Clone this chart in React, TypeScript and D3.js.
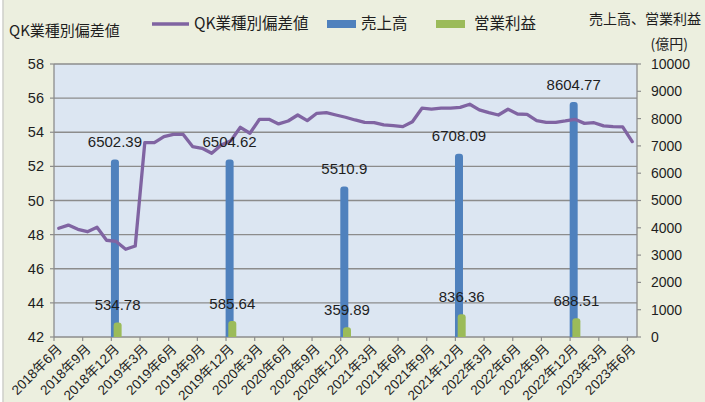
import React from "react";
import * as d3 from "d3";

const startYear = 2018;
const startMonth = 6;
const monthCount = 61;
const months: string[] = [];
for (let k = 0; k < monthCount; k++) {
  const m0 = startMonth - 1 + k;
  months.push(`${startYear + Math.floor(m0 / 12)}年${(m0 % 12) + 1}月`);
}

const tickLabels = [
  "2018年6月", "2018年9月", "2018年12月", "2019年3月", "2019年6月", "2019年9月", "2019年12月",
  "2020年3月", "2020年6月", "2020年9月", "2020年12月", "2021年3月", "2021年6月", "2021年9月",
  "2021年12月", "2022年3月", "2022年6月", "2022年9月", "2022年12月", "2023年3月", "2023年6月",
];

const qkValues = [
  48.37, 48.56, 48.31, 48.17, 48.43, 47.67, 47.6, 47.14, 47.33, 53.39,
  53.39, 53.74, 53.88, 53.88, 53.16, 53.06, 52.77, 53.25, 53.5, 54.29,
  53.94, 54.76, 54.76, 54.49, 54.66, 55.01, 54.68, 55.11, 55.15, 55.01,
  54.88, 54.72, 54.58, 54.56, 54.43, 54.39, 54.33, 54.62, 55.41, 55.36,
  55.41, 55.41, 55.46, 55.64, 55.31, 55.15, 55.01, 55.35, 55.07, 55.05,
  54.68, 54.58, 54.58, 54.66, 54.76, 54.52, 54.56, 54.37, 54.33, 54.31,
  53.45,
];

const barCategories = ["2018年12月", "2019年12月", "2020年12月", "2021年12月", "2022年12月"];
const salesValues = [6502.39, 6504.62, 5510.9, 6708.09, 8604.77];
const profitValues = [534.78, 585.64, 359.89, 836.36, 688.51];

const leftTicks = [42, 44, 46, 48, 50, 52, 54, 56, 58];
const rightTicks = [0, 1000, 2000, 3000, 4000, 5000, 6000, 7000, 8000, 9000, 10000];

const W = 705;
const H = 402;
const P = { left: 54, right: 637, top: 64, bottom: 337 };

const C = {
  bg: "#ecefdf",
  plot: "#dce6f2",
  grid: "#8c8c8c",
  line: "#8064a2",
  blue: "#4f81bd",
  green: "#9bbb59",
  text: "#1e1e1e",
};

const FONT = "'Liberation Sans', 'Noto Sans CJK JP', sans-serif";
const CJK = "'Noto Sans CJK JP', 'Liberation Sans', sans-serif";

function roundTopBar(cx: number, w: number, yTop: number, yBase: number, r: number) {
  const x0 = cx - w / 2;
  const x1 = cx + w / 2;
  const p = d3.path();
  p.moveTo(x0, yBase);
  p.lineTo(x0, yTop + r);
  p.quadraticCurveTo(x0, yTop, x0 + r, yTop);
  p.lineTo(x1 - r, yTop);
  p.quadraticCurveTo(x1, yTop, x1, yTop + r);
  p.lineTo(x1, yBase);
  p.closePath();
  return p.toString();
}

export default function App() {
  const x = d3.scaleBand<string>().domain(months).range([P.left, P.right]).padding(0);
  const bw = x.bandwidth();
  const cx = (m: string) => (x(m) as number) + bw / 2;
  const yL = d3.scaleLinear().domain([42, 58]).range([P.bottom, P.top]);
  const yR = d3.scaleLinear().domain([0, 10000]).range([P.bottom, P.top]);

  const lineGen = d3
    .line<number>()
    .x((_, i) => cx(months[i]))
    .y((d) => yL(d));

  const barW = 8;
  const blueOff = -1.2;
  const greenOff = 1.5;

  return (
    <svg
      width={W}
      height={H}
      style={{ position: "absolute", left: 0, top: 0, display: "block" }}
      fontFamily={FONT}
    >
      <rect x={0} y={0} width={W} height={H} fill={C.bg} />
      <rect x={0} y={0} width={2.5} height={H} fill="#ffffff" />
      <line x1={3} x2={3} y1={0} y2={H} stroke="#bfbfbf" strokeWidth={1} />

      {/* plot area */}
      <rect x={P.left} y={P.top} width={P.right - P.left} height={P.bottom - P.top} fill={C.plot} />
      {leftTicks.map((t) => (
        <line key={`g${t}`} x1={P.left} x2={P.right} y1={yL(t)} y2={yL(t)} stroke={C.grid} strokeWidth={1.3} />
      ))}
      <line x1={P.left} x2={P.left} y1={P.top} y2={P.bottom} stroke={C.grid} strokeWidth={1.3} />
      <line x1={P.right} x2={P.right} y1={P.top} y2={P.bottom} stroke={C.grid} strokeWidth={1.3} />

      {/* left ticks */}
      {leftTicks.map((t) => (
        <g key={`lt${t}`}>
          <line x1={P.left - 4} x2={P.left} y1={yL(t)} y2={yL(t)} stroke={C.grid} strokeWidth={1.2} />
          <text x={44} y={yL(t)} dy="0.35em" textAnchor="end" fontSize={14.5} fill={C.text}>
            {t}
          </text>
        </g>
      ))}
      {/* right ticks */}
      {rightTicks.map((t) => (
        <g key={`rt${t}`}>
          <line x1={P.right} x2={P.right + 4} y1={yR(t)} y2={yR(t)} stroke={C.grid} strokeWidth={1.2} />
          <text x={651} y={yR(t)} dy="0.35em" textAnchor="start" fontSize={14} fill={C.text}>
            {t}
          </text>
        </g>
      ))}

      {/* x ticks & labels */}
      {tickLabels.map((lab) => {
        const bx = x(lab) as number;
        const c = cx(lab);
        return (
          <g key={`xt${lab}`}>
            <line x1={bx} x2={bx} y1={P.bottom} y2={P.bottom + 4} stroke={C.grid} strokeWidth={1.2} />
            <text
              transform={`translate(${c + 4},${P.bottom + 13}) rotate(-45)`}
              textAnchor="end"
              fontSize={13.5}
              fill={C.text}
            >
              {lab}
            </text>
          </g>
        );
      })}

      {/* bars */}
      {barCategories.map((m, k) => (
        <path key={`b${m}`} d={roundTopBar(cx(m) + blueOff, barW, yR(salesValues[k]), P.bottom, 3)} fill={C.blue} />
      ))}
      {barCategories.map((m, k) => (
        <path key={`p${m}`} d={roundTopBar(cx(m) + greenOff, barW, yR(profitValues[k]), P.bottom, 3)} fill={C.green} />
      ))}

      {/* line */}
      <path d={lineGen(qkValues) as string} fill="none" stroke={C.line} strokeWidth={3.3} strokeLinejoin="round" strokeLinecap="round" />

      {/* data labels */}
      {barCategories.map((m, k) => (
        <text key={`sl${m}`} x={cx(m) + blueOff} y={yR(salesValues[k]) - 12.5} textAnchor="middle" fontSize={15} fill={C.text}>
          {salesValues[k]}
        </text>
      ))}
      {barCategories.map((m, k) => (
        <text key={`pl${m}`} x={cx(m) + greenOff} y={yR(profitValues[k]) - 12.5} textAnchor="middle" fontSize={15} fill={C.text}>
          {profitValues[k]}
        </text>
      ))}

      {/* titles & legend */}
      <text x={9} y={36} fontSize={15} fontFamily={CJK} fill={C.text}>
        QK業種別偏差値
      </text>
      <line x1={152} x2={189} y1={24} y2={24} stroke={C.line} strokeWidth={3.5} />
      <text x={194} y={24} dy="0.35em" fontSize={15.5} fontFamily={CJK} fill={C.text}>
        QK業種別偏差値
      </text>
      <rect x={327} y={20} width={29} height={8} fill={C.blue} />
      <text x={361} y={24} dy="0.35em" fontSize={15.5} fontFamily={CJK} fill={C.text}>
        売上高
      </text>
      <rect x={436} y={20} width={29} height={8} fill={C.green} />
      <text x={474} y={24} dy="0.35em" fontSize={15.5} fontFamily={CJK} fill={C.text}>
        営業利益
      </text>
      <text x={701} y={19} dy="0.35em" textAnchor="end" fontSize={14} fontFamily={CJK} fill={C.text}>
        売上高、営業利益
      </text>
      <text x={688} y={44} dy="0.35em" textAnchor="end" fontSize={14} fontFamily={CJK} fill={C.text}>
        (億円)
      </text>
    </svg>
  );
}
